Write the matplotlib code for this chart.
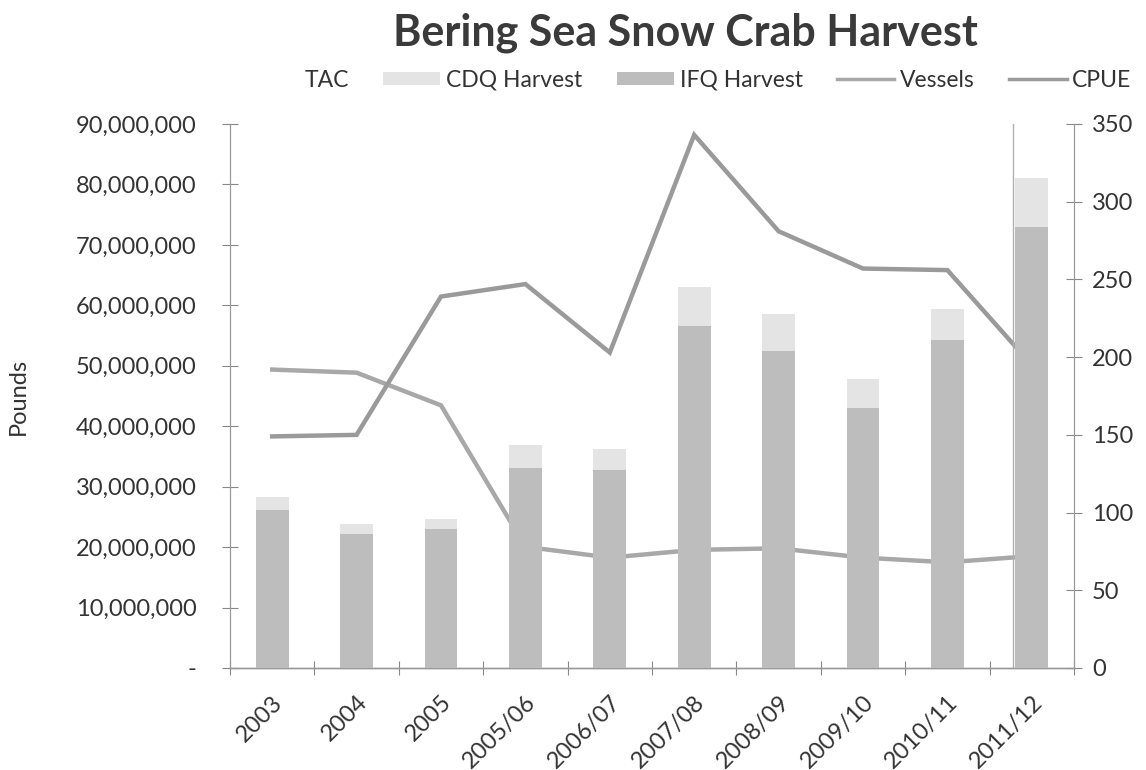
import matplotlib
matplotlib.use("Agg")
import matplotlib.pyplot as plt
from matplotlib.patches import Patch
from matplotlib.lines import Line2D
from matplotlib.ticker import FuncFormatter
import numpy as np

# ---- data ----
categories = ["2003", "2004", "2005", "2005/06", "2006/07", "2007/08",
              "2008/09", "2009/10", "2010/11", "2011/12"]
ifq_harvest = [26.2e6, 22.2e6, 23.0e6, 33.1e6, 32.8e6, 56.6e6, 52.5e6, 43.0e6, 54.3e6, 73.0e6]
cdq_harvest = [2.1e6, 1.6e6, 1.7e6, 3.8e6, 3.5e6, 6.5e6, 6.1e6, 4.8e6, 5.1e6, 8.0e6]
vessels = [192, 190, 169, 78, 71, 76, 77, 71, 68, 72]
cpue = [149, 150, 239, 247, 203, 343, 281, 257, 256, 195]

left_ticks = [0, 10e6, 20e6, 30e6, 40e6, 50e6, 60e6, 70e6, 80e6, 90e6]
right_ticks = [0, 50, 100, 150, 200, 250, 300, 350]

plt.rcParams['font.family'] = ['Lato', 'DejaVu Sans']
text_col = '#333333'

fig = plt.figure(figsize=(11.46, 7.70), dpi=100)
ax = fig.add_axes([230/1146, 1 - 668/770, (1074-230)/1146, (668-124)/770])
ax2 = ax.twinx()
ax2.set_zorder(ax.get_zorder() - 1)
ax.patch.set_visible(False)

x = np.arange(len(categories))
bw = 0.39
ifq_col = '#bdbdbd'
cdq_col = '#e4e4e4'
ax.bar(x, ifq_harvest, bw, color=ifq_col, edgecolor='none', zorder=3)
ax.bar(x, cdq_harvest, bw, bottom=ifq_harvest, color=cdq_col, edgecolor='none', zorder=3)

ves_col = '#a8a8a8'
cpue_col = '#9a9a9a'
ax2.plot(x, vessels, color=ves_col, lw=3.2, solid_joinstyle='miter')
ax2.plot(x, cpue, color=cpue_col, lw=3.2, solid_joinstyle='miter')

ax.set_xlim(-0.5, len(categories) - 0.5)
ax.set_ylim(0, 90e6)
ax2.set_ylim(0, 350)

# stray vertical rule near last category
ax.axvline(len(categories) - 1 - bw/2 - 0.03, color='#b0b0b0', lw=1.0, zorder=2)

ax.set_yticks(left_ticks)
ax.yaxis.set_major_formatter(FuncFormatter(lambda v, p: '-' if v == 0 else f'{int(v):,}'))
ax2.set_yticks(right_ticks)

ax.set_xticks(x)
ax.set_xticklabels(categories, rotation=45, ha='right', va='top', rotation_mode='anchor',
                   fontsize=17, color=text_col)
ax.set_xticks(np.arange(-0.5, len(categories) + 0.5, 1), minor=True)
ax.tick_params(axis='x', which='major', length=0, pad=17)
ax.tick_params(axis='x', which='minor', length=10, direction='inout', color='#888888', width=0.8)

ax.tick_params(axis='y', which='major', length=12, direction='inout', color='#888888',
               width=0.8, labelsize=17, labelcolor=text_col, pad=18)
ax2.tick_params(axis='y', which='major', length=12, direction='inout', color='#888888',
                width=0.8, labelsize=17, labelcolor=text_col, pad=7)

for a in (ax, ax2):
    a.spines['top'].set_visible(False)
    a.spines['left'].set_color('#999999')
    a.spines['right'].set_color('#999999')
    a.spines['bottom'].set_color('#999999')
    a.spines['left'].set_linewidth(0.8)
    a.spines['right'].set_linewidth(0.8)
    a.spines['bottom'].set_linewidth(1.0)

ax.set_ylabel('Pounds', fontsize=17, color=text_col)
ax.yaxis.set_label_coords(-0.238, 0.5)

fig.text(0.598, 0.957, 'Bering Sea Snow Crab Harvest', ha='center', va='center',
         fontsize=31, fontweight='bold', color='#3a3a3a')

handles = [
    Patch(facecolor='none', edgecolor='none'),
    Patch(facecolor=cdq_col, edgecolor='none'),
    Patch(facecolor=ifq_col, edgecolor='none'),
    Line2D([], [], color=ves_col, lw=2.5),
    Line2D([], [], color=cpue_col, lw=2.5),
]
labels = ['TAC', 'CDQ Harvest', 'IFQ Harvest', 'Vessels', 'CPUE']
leg = fig.legend(handles, labels, loc='center', bbox_to_anchor=(0.599, 0.896), ncol=5,
                 frameon=False, fontsize=16.5, handlelength=2.5, handleheight=0.5,
                 handletextpad=0.25, columnspacing=1.5, labelcolor=text_col)

fig.savefig('out.png', dpi=100, facecolor='white')
